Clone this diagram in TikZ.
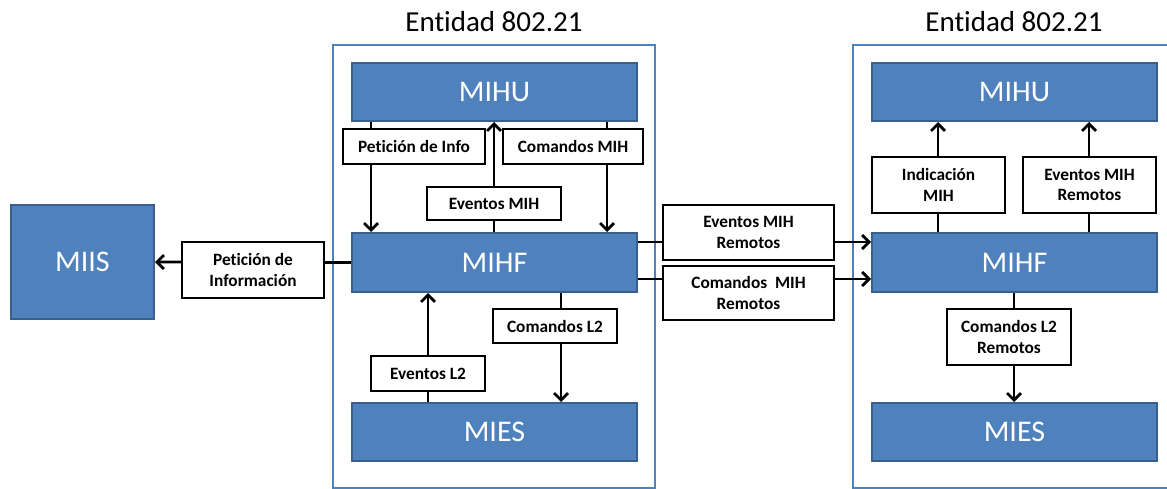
\documentclass[tikz,border=0pt]{standalone}
\usepackage{fontspec}
\setmainfont[Ligatures=NoCommon]{Carlito}
\usetikzlibrary{arrows.meta}
\definecolor{blockfill}{HTML}{4F81BD}
\definecolor{blockedge}{HTML}{3A5F8C}
\definecolor{frameblue}{HTML}{4F81BD}
\begin{document}
\begin{tikzpicture}[x=1pt,y=-1pt,
  block/.style={draw=blockedge,line width=2pt,fill=blockfill,text=white,
    font=\fontsize{30}{33}\selectfont,inner sep=0pt},
  lbl/.style={draw=black,line width=2.8pt,fill=white,align=center,
    font=\fontsize{17.3}{20.5}\selectfont\bfseries,inner sep=0pt},
  frame/.style={draw=frameblue,line width=2.2pt},
  title/.style={font=\fontsize{29}{32}\selectfont,inner sep=0pt},
  conn/.style={line width=2.8pt,draw=black},
  arr/.style={conn,-{Straight Barb[length=7pt,width=14pt,line width=2.8pt]}}]
\useasboundingbox (0,0) rectangle (1167,489);

% frames of the two 802.21 entities
\draw[frame] (333,45) rectangle (655,488);
\draw[frame] (853,45) rectangle (1180,488);
\node[title] (tl) at (494,22) {Entidad 802.21};
\node[title] (tr) at (1014,22) {Entidad 802.21};

% blocks
\node[block,minimum width=143,minimum height=114] (miis) at (82.5,262) {MIIS};
\node[block,minimum width=285,minimum height=58] (mihuL) at (494.5,92) {MIHU};
\node[block,minimum width=285,minimum height=59] (mihfL) at (494.5,262.5) {MIHF};
\node[block,minimum width=285,minimum height=58] (miesL) at (494.5,432) {MIES};
\node[block,minimum width=285,minimum height=58] (mihuR) at (1014.5,92) {MIHU};
\node[block,minimum width=285,minimum height=59] (mihfR) at (1014.5,262.5) {MIHF};
\node[block,minimum width=285,minimum height=58] (miesR) at (1014.5,432) {MIES};

% x / y positions of the connectors
\coordinate (xa) at (371,0);
\coordinate (xb) at (494,0);
\coordinate (xc) at (607,0);
\coordinate (xd) at (428,0);
\coordinate (xe) at (561,0);
\coordinate (xf) at (938,0);
\coordinate (xg) at (1089,0);
\coordinate (xh) at (1014,0);
\coordinate (ya) at (0,242);
\coordinate (yb) at (0,279);

% connectors
\draw[arr] (mihfL.west) -- (miis.east);
\draw[arr] (mihuL.south -| xa) -- (mihfL.north -| xa);
\draw[arr] (mihuL.south -| xc) -- (mihfL.north -| xc);
\draw[arr] (mihfL.north -| xb) -- (mihuL.south -| xb);
\draw[arr] (miesL.north -| xd) -- (mihfL.south -| xd);
\draw[arr] (mihfL.south -| xe) -- (miesL.north -| xe);
\draw[arr] (mihfL.east |- ya) -- (mihfR.west |- ya);
\draw[arr] (mihfL.east |- yb) -- (mihfR.west |- yb);
\draw[arr] (mihfR.north -| xf) -- (mihuR.south -| xf);
\draw[arr] (mihfR.north -| xg) -- (mihuR.south -| xg);
\draw[arr] (mihfR.south -| xh) -- (miesR.north -| xh);

% labels on the connectors
\node[lbl,minimum width=142,minimum height=56] (pinf) at (253,270) {Petición de\\Información};
\node[lbl,minimum width=142,minimum height=35] (pi) at (414,146.5) {Petición de Info};
\node[lbl,minimum width=140,minimum height=35] (cm) at (573,146.5) {Comandos MIH};
\node[lbl,minimum width=134,minimum height=33] (em) at (494,203.5) {Eventos MIH};
\node[lbl,minimum width=114,minimum height=35] (el2) at (428,373.5) {Eventos L2};
\node[lbl,minimum width=124,minimum height=34] (cl2) at (555,326) {Comandos L2};
\node[lbl,minimum width=171,minimum height=55] (er) at (748.5,232.5) {Eventos MIH\\Remotos};
\node[lbl,minimum width=171,minimum height=54] (cr) at (748.5,293) {Comandos~ MIH\\Remotos};
\node[lbl,minimum width=133,minimum height=56] (im) at (938.5,185) {Indicación\\MIH};
\node[lbl,minimum width=133,minimum height=56] (err) at (1089.5,185) {Eventos MIH\\Remotos};
\node[lbl,minimum width=124,minimum height=56] (cl2r) at (1009,337) {Comandos L2\\Remotos};
\end{tikzpicture}
\end{document}
